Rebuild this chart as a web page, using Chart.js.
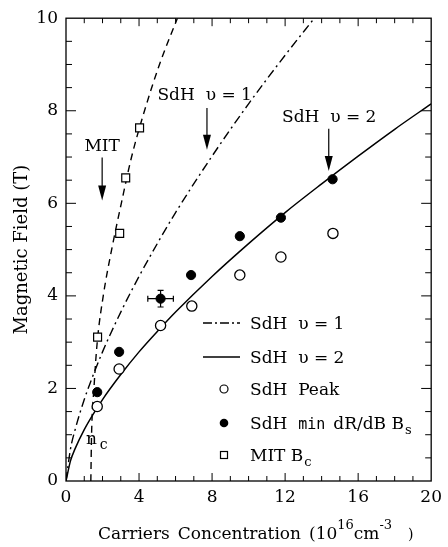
<!DOCTYPE html>
<html>
<head>
<meta charset="utf-8">
<script src="https://cdn.jsdelivr.net/npm/chart.js@4.4.0/dist/chart.umd.min.js"></script>
<style>
  html, body { margin: 0; padding: 0; background: #fff; }
  #wrap { width: 448px; height: 547px; position: relative; }
</style>
</head>
<body>
<div id="wrap"><canvas id="chart"></canvas></div>
<script>
// === Data ===
const xTickValues = [0, 4, 8, 12, 16, 20];
const yTickValues = [0, 2, 4, 6, 8, 10];

// SdH peak (open circles)
const peakN = [1.71, 2.91, 5.18, 6.89, 9.52, 11.77, 14.62];
const peakB = [1.61, 2.42, 3.36, 3.78, 4.45, 4.84, 5.35];

// SdH min dR/dB (filled circles), one point carries error bars
const minN = [1.71, 2.91, 5.18, 6.85, 9.52, 11.77, 14.6];
const minB = [1.92, 2.79, 3.94, 4.45, 5.29, 5.69, 6.52];
const minErrN = [0, 0, 0.7, 0, 0, 0, 0];
const minErrB = [0, 0, 0.18, 0, 0, 0, 0];

// MIT Bc (open squares)
const mitN = [1.73, 2.94, 3.27, 4.03];
const mitB = [3.11, 5.35, 6.55, 7.63];

// SdH nu = 1 (dash-dot curve)
const nu1N = [0, 0.25, 0.5, 1, 1.5, 2, 3, 4, 5, 6, 8, 10, 12, 13.6];
const nu1B = [0, 0.70, 1.11, 1.76, 2.30, 2.79, 3.65, 4.42, 5.13, 5.80, 7.02, 8.15, 9.20, 10.0];

// SdH nu = 2 (solid curve)
const nu2N = [0, 0.25, 0.5, 1, 1.5, 2, 3, 4, 5, 6, 8, 10, 12, 14, 16, 18, 20];
const nu2B = [0, 0.44, 0.70, 1.11, 1.45, 1.76, 2.30, 2.79, 3.23, 3.65, 4.42, 5.13, 5.80, 6.42, 7.02, 7.60, 8.15];

// MIT boundary (dashed curve)
const mitCurveN = [1.36, 1.40, 1.53, 1.71, 2.04, 2.5, 3.03, 3.59, 4.3, 5.12, 6.1];
const mitCurveB = [0, 1, 2, 3, 4, 5, 6, 7, 8, 9, 10];

// === Helpers ===
const SERIF = "'DejaVu Serif', serif";
const pts = (xs, ys) => xs.map((x, i) => ({ x: x, y: ys[i] }));

function drawRich(ctx, x, y, parts) {
  parts.forEach(p => {
    ctx.font = p.font || ('16px ' + SERIF);
    ctx.fillText(p.t, x, y + (p.dy || 0));
    x += ctx.measureText(p.t).width + (p.gap || 0);
  });
}

function arrowDown(ctx, x, y0, y1) {
  ctx.beginPath();
  ctx.moveTo(x, y0);
  ctx.lineTo(x, y1 - 10);
  ctx.stroke();
  ctx.beginPath();
  ctx.moveTo(x, y1);
  ctx.lineTo(x - 4, y1 - 15);
  ctx.lineTo(x + 4, y1 - 15);
  ctx.closePath();
  ctx.fill();
}

// === Decorations: frame, inward ticks, error bars, labels, legend ===
const decor = {
  id: 'decor',
  beforeDatasetsDraw(chart) {
    const ctx = chart.ctx, sx = chart.scales.x, sy = chart.scales.y;
    ctx.save();
    ctx.strokeStyle = '#000';
    ctx.lineWidth = 1.2;
    minN.forEach((n, i) => {
      if (!minErrN[i] && !minErrB[i]) return;
      const cx = sx.getPixelForValue(n), cy = sy.getPixelForValue(minB[i]);
      const x0 = sx.getPixelForValue(n - minErrN[i]), x1 = sx.getPixelForValue(n + minErrN[i]);
      const y0 = sy.getPixelForValue(minB[i] - minErrB[i]), y1 = sy.getPixelForValue(minB[i] + minErrB[i]);
      ctx.beginPath();
      ctx.moveTo(x0, cy); ctx.lineTo(x1, cy);
      ctx.moveTo(x0, cy - 3); ctx.lineTo(x0, cy + 3);
      ctx.moveTo(x1, cy - 3); ctx.lineTo(x1, cy + 3);
      ctx.moveTo(cx, y0); ctx.lineTo(cx, y1);
      ctx.moveTo(cx - 3, y0); ctx.lineTo(cx + 3, y0);
      ctx.moveTo(cx - 3, y1); ctx.lineTo(cx + 3, y1);
      ctx.stroke();
    });
    ctx.restore();
  },
  afterDraw(chart) {
    const ctx = chart.ctx, a = chart.chartArea;
    const sx = chart.scales.x, sy = chart.scales.y;
    ctx.save();
    ctx.strokeStyle = '#000';
    ctx.fillStyle = '#000';
    ctx.lineWidth = 1.3;
    ctx.strokeRect(a.left, a.top, a.right - a.left, a.bottom - a.top);

    // inward ticks
    ctx.lineWidth = 1;
    ctx.beginPath();
    for (let n = 1; n < 20; n++) {
      const x = sx.getPixelForValue(n), len = n % 4 === 0 ? 8 : 5;
      ctx.moveTo(x, a.bottom); ctx.lineTo(x, a.bottom - len);
      ctx.moveTo(x, a.top); ctx.lineTo(x, a.top + len);
    }
    for (let b = 0.5; b < 10; b += 0.5) {
      const y = sy.getPixelForValue(b), len = b % 2 === 0 ? 10 : 6;
      ctx.moveTo(a.left, y); ctx.lineTo(a.left + len, y);
      ctx.moveTo(a.right, y); ctx.lineTo(a.right - len, y);
    }
    ctx.stroke();

    // annotations
    const font = '17px ' + SERIF;
    ctx.font = font;
    ctx.lineWidth = 1.2;
    ctx.textBaseline = 'alphabetic';
    ctx.textAlign = 'center';
    ctx.fillText('MIT', sx.getPixelForValue(1.98), sy.getPixelForValue(7.12));
    arrowDown(ctx, sx.getPixelForValue(1.98), sy.getPixelForValue(6.99), sy.getPixelForValue(6.06));
    ctx.textAlign = 'left';
    ctx.fillText('SdH  \u03c5 = 1', sx.getPixelForValue(5.01), sy.getPixelForValue(8.23));
    arrowDown(ctx, sx.getPixelForValue(7.72), sy.getPixelForValue(8.06), sy.getPixelForValue(7.16));
    ctx.fillText('SdH  \u03c5 = 2', sx.getPixelForValue(11.83), sy.getPixelForValue(7.76));
    arrowDown(ctx, sx.getPixelForValue(14.39), sy.getPixelForValue(7.61), sy.getPixelForValue(6.70));
    drawRich(ctx, sx.getPixelForValue(1.09), sy.getPixelForValue(0.81), [
      { t: 'n', font: '17px ' + SERIF, gap: 3 },
      { t: 'c', font: '14px ' + SERIF, dy: 5 }
    ]);

    // legend
    const lx0 = 203, lx1 = 240, mx = 224, tx = 250;
    const rows = [323, 357, 389, 423, 455];
    ctx.lineWidth = 1.4;
    ctx.setLineDash([9, 3, 2, 3]);
    ctx.beginPath(); ctx.moveTo(lx0, rows[0]); ctx.lineTo(lx1, rows[0]); ctx.stroke();
    ctx.setLineDash([]);
    ctx.beginPath(); ctx.moveTo(lx0, rows[1]); ctx.lineTo(lx1, rows[1]); ctx.stroke();
    ctx.lineWidth = 1.2;
    ctx.beginPath(); ctx.arc(mx, rows[2], 4, 0, Math.PI * 2); ctx.stroke();
    ctx.beginPath(); ctx.arc(mx, rows[3], 4.3, 0, Math.PI * 2); ctx.fill();
    ctx.strokeRect(mx - 3.5, rows[4] - 3.5, 7, 7);

    const lf = '17px ' + SERIF;
    drawRich(ctx, tx, rows[0] + 6, [{ t: 'SdH  \u03c5 = 1', font: lf }]);
    drawRich(ctx, tx, rows[1] + 6, [{ t: 'SdH  \u03c5 = 2', font: lf }]);
    drawRich(ctx, tx, rows[2] + 6, [{ t: 'SdH  Peak', font: lf }]);
    drawRich(ctx, tx, rows[3] + 6, [
      { t: 'SdH  ', font: lf },
      { t: 'min', font: '15px "DejaVu Sans Mono", monospace', gap: 8 },
      { t: 'dR/dB B', font: lf, gap: 1 },
      { t: 's', font: '13px ' + SERIF, dy: 5 }
    ]);
    drawRich(ctx, tx, rows[4] + 6, [
      { t: 'MIT B', font: lf, gap: 1 },
      { t: 'c', font: '13px ' + SERIF, dy: 5 }
    ]);

    // axis titles
    const tf = '17px ' + SERIF;
    drawRich(ctx, 98, 539, [
      { t: 'Carriers', font: tf, gap: 8 },
      { t: 'Concentration', font: tf, gap: 8 },
      { t: '(10', font: tf },
      { t: '16', font: '13px ' + SERIF, dy: -10 },
      { t: 'cm', font: tf },
      { t: '-3', font: '13px ' + SERIF, dy: -10, gap: 16 },
      { t: ')', font: '14px ' + SERIF }
    ]);
    ctx.translate(22, (a.top + a.bottom) / 2);
    ctx.rotate(-Math.PI / 2);
    ctx.textAlign = 'center';
    ctx.font = '18px ' + SERIF;
    ctx.textBaseline = 'middle';
    ctx.fillText('Magnetic Field (T)', 0, 0);
    ctx.restore();
  }
};

// === Chart ===
new Chart(document.getElementById('chart').getContext('2d'), {
  type: 'scatter',
  data: {
    datasets: [
      { label: 'SdH Peak', data: pts(peakN, peakB), order: 0,
        pointStyle: 'circle', pointRadius: 5.1, pointBackgroundColor: '#fff',
        pointBorderColor: '#000', pointBorderWidth: 1.3 },
      { label: 'SdH min dR/dB Bs', data: pts(minN, minB), order: 0,
        pointStyle: 'circle', pointRadius: 4.6, pointBackgroundColor: '#000',
        pointBorderColor: '#000', pointBorderWidth: 1 },
      { label: 'MIT Bc', data: pts(mitN, mitB), order: 0,
        pointStyle: 'rect', pointRadius: 5.6, pointBackgroundColor: '#fff',
        pointBorderColor: '#000', pointBorderWidth: 1.2 },
      { label: 'SdH nu=1', data: pts(nu1N, nu1B), order: 1, showLine: true,
        pointRadius: 0, borderColor: '#000', borderWidth: 1.4,
        borderDash: [9, 4, 2, 4], cubicInterpolationMode: 'monotone' },
      { label: 'SdH nu=2', data: pts(nu2N, nu2B), order: 1, showLine: true,
        pointRadius: 0, borderColor: '#000', borderWidth: 1.5,
        cubicInterpolationMode: 'monotone' },
      { label: 'MIT', data: pts(mitCurveN, mitCurveB), order: 1, showLine: true,
        pointRadius: 0, borderColor: '#000', borderWidth: 1.4,
        borderDash: [7, 5], cubicInterpolationMode: 'monotone' }
    ]
  },
  options: {
    responsive: true,
    maintainAspectRatio: false,
    animation: false,
    layout: { padding: { top: 12, right: 15, left: 0, bottom: 0 } },
    plugins: { legend: { display: false }, tooltip: { enabled: false } },
    scales: {
      x: {
        type: 'linear', min: 0, max: 20,
        afterFit: s => { s.height = 66; },
        afterBuildTicks: s => { s.ticks = xTickValues.map(v => ({ value: v })); },
        grid: { display: false, drawTicks: false },
        border: { display: false },
        ticks: { color: '#000', padding: 6, font: { family: SERIF, size: 17 } }
      },
      y: {
        type: 'linear', min: 0, max: 10,
        afterFit: s => { s.width = 66; },
        afterBuildTicks: s => { s.ticks = yTickValues.map(v => ({ value: v })); },
        grid: { display: false, drawTicks: false },
        border: { display: false },
        ticks: { color: '#000', padding: 8, font: { family: SERIF, size: 17 } }
      }
    }
  },
  plugins: [decor]
});
</script>
</body>
</html>
